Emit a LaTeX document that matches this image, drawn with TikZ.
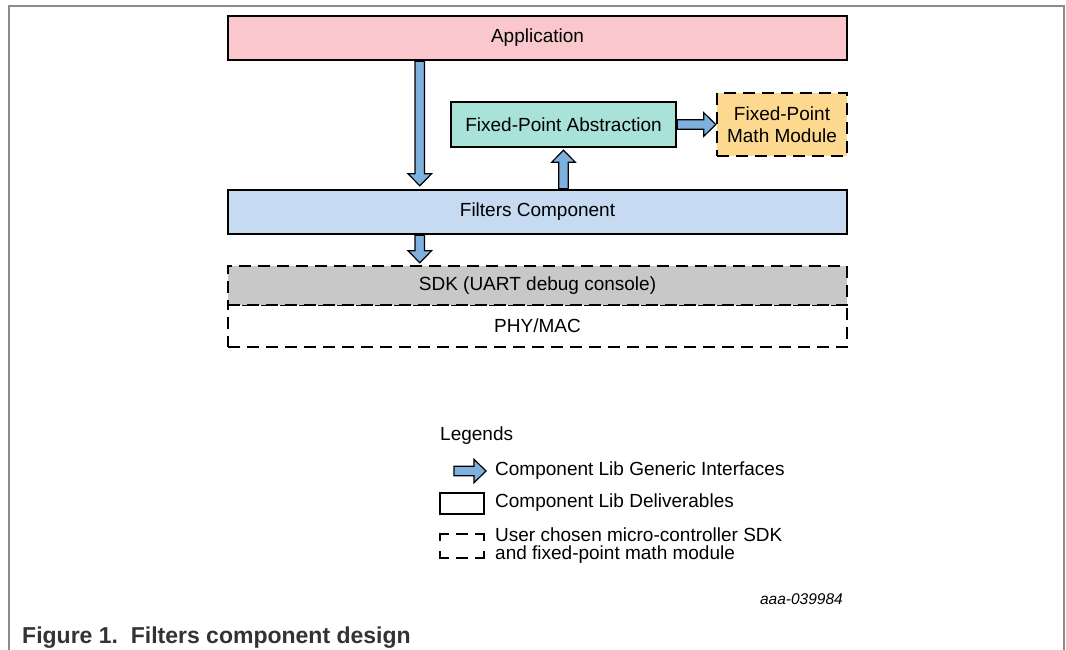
\documentclass[tikz,border=0pt]{standalone}
\usepackage{fontspec}
\setmainfont{Liberation Sans}
\usetikzlibrary{calc}
\definecolor{appfill}{HTML}{FAC8CC}
\definecolor{filtfill}{HTML}{C6DAF1}
\definecolor{fpafill}{HTML}{A8E2D8}
\definecolor{fpmfill}{HTML}{FDD98F}
\definecolor{sdkfill}{HTML}{C8C8C8}
\definecolor{arrowblue}{HTML}{7EB1DD}
\definecolor{framegray}{HTML}{8C8C8C}
\definecolor{captiongray}{HTML}{333333}
\tikzset{
  box/.style={draw=black, line width=2.4pt, inner sep=0pt, text=black,
    font=\fontsize{19}{22}\selectfont},
  dashbox/.style={box, dash pattern=on 12pt off 7pt},
  barrow/.style={draw=black, line width=1.2pt, fill=arrowblue, line join=miter},
  legtext/.style={anchor=west, inner sep=0pt, font=\fontsize{19}{18}\selectfont, align=left},
}
\newcommand\blkarrow[2]{%
  \coordinate (bahead) at ($(#2)!12pt!(#1)$);
  \draw[barrow] ($(#1)!4.75pt!90:(#2)$) -- ($(bahead)!4.75pt!90:(#2)$)
    -- ($(bahead)!11.75pt!90:(#2)$) -- (#2) -- ($(bahead)!11.75pt!-90:(#2)$)
    -- ($(bahead)!4.75pt!-90:(#2)$) -- ($(#1)!4.75pt!-90:(#2)$) -- cycle;}
\begin{document}
\begin{tikzpicture}[x=1pt,y=1pt]
\useasboundingbox (0,0) rectangle (1066,650);
% frame
\draw[framegray, line width=1.5pt] (9,-5) -- (9,644) -- (1064,644) -- (1064,-5);
% boxes
\node[box, fill=appfill, minimum width=619pt, minimum height=44pt] (app) at (537.5,612) {Application};
\node[box, fill=filtfill, minimum width=619pt, minimum height=44pt] (filt) at (537.5,438) {Filters Component};
\node[box, fill=fpafill, minimum width=225pt, minimum height=45pt] (fpa) at (563.5,525.5) {Fixed-Point Abstraction};
\node[dashbox, fill=fpmfill, minimum width=130pt, minimum height=63pt, align=center] (fpm) at (782,525.5) {Fixed-Point\\Math Module};
\node[dashbox, fill=white, minimum width=619pt, minimum height=42pt] (phy) at (537.5,324) {PHY/MAC};
\node[dashbox, fill=sdkfill, minimum width=619pt, minimum height=39pt] (sdk) at (537.5,364.5) {SDK (UART debug console)};
% arrows
\coordinate (a1s) at ($(app.south west)+(193,0)$);
\coordinate (a1e) at ($(a1s |- filt.north)+(0,3)$);
\blkarrow{a1s}{a1e}
\coordinate (a2s) at (a1s |- filt.south);
\coordinate (a2e) at ($(a1s |- sdk.north)+(0,2)$);
\blkarrow{a2s}{a2e}
\coordinate (a3s) at (fpa.south |- filt.north);
\coordinate (a3e) at ($(fpa.south)+(0,-2)$);
\blkarrow{a3s}{a3e}
\coordinate (a4s) at (fpa.east);
\coordinate (a4e) at (fpm.west);
\blkarrow{a4s}{a4e}
% legend
\node[legtext] (leg) at (440,214) {Legends};
\coordinate (la1) at (454,179);
\coordinate (la2) at (486,179);
\blkarrow{la1}{la2}
\node[legtext] (l1) at (495,179) {Component Lib Generic Interfaces};
\draw[line width=2.6pt, fill=white] (440,136) rectangle (484,157);
\node[legtext] (l2) at (495,147) {Component Lib Deliverables};
\begin{scope}[line width=2.6pt]
  \draw (440,109) -- (440,116) -- (449,116);
  \draw (456,116) -- (468,116);
  \draw (475,116) -- (484,116) -- (484,109);
  \draw (440,99) -- (440,92) -- (449,92);
  \draw (456,92) -- (468,92);
  \draw (475,92) -- (484,92) -- (484,99);
\end{scope}
\node[legtext] (l3) at (495,104) {User chosen micro-controller SDK\\and fixed-point math module};
\node[anchor=east, inner sep=0pt, font=\fontsize{15.5}{18}\selectfont\itshape] (ref) at (843,51) {aaa-039984};
% caption
\node[anchor=base west, inner sep=0pt, text=captiongray, font=\fontsize{23}{26}\selectfont\bfseries] (cap) at (22,6) {Figure 1.\ \ Filters component design};
\end{tikzpicture}
\end{document}
